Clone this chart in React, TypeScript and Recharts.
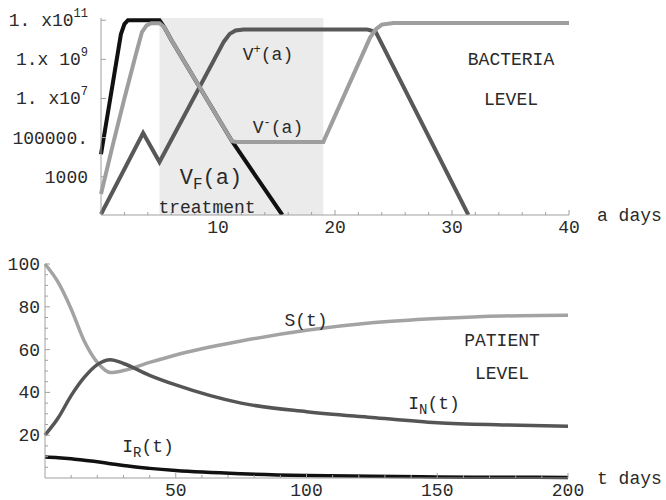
import { LineChart, Line, XAxis, YAxis, ReferenceArea } from 'recharts';

const FONT = '"Liberation Mono", "Courier New", monospace';

// ---- bacteria level, a in days (log scale) ----
const vfDays = [0, 1, 1.7, 2.0, 2.3, 5.0, 5.4, 6, 11.2, 15.5];
const vfLevel = [1.4e4, 5.6e7, 1.9e10, 6.3e10, 1e11, 1e11, 4.5e10, 1e10, 6.5e4, 11];

const vMinusDays = [0, 1, 2, 3, 3.5, 3.9, 4.3, 5.0, 5.4, 6, 11.2, 11.6, 19, 23, 23.5, 24, 25, 40];
const vMinusLevel = [130, 4e4, 1e7, 2e9, 2.5e10, 5.5e10, 7e10, 7e10, 4.5e10, 1e10, 6.5e4, 6e4, 6e4, 1.3e10, 3.5e10, 6e10, 7.2e10, 7.2e10];

const vPlusDays = [0, 3.6, 5.0, 10.5, 11, 11.5, 12.2, 22.7, 23.0, 23.5, 31.4];
const vPlusLevel = [12, 1.7e5, 5.6e3, 8e9, 2e10, 3e10, 3.4e10, 3.4e10, 3.1e10, 2.4e10, 11];

const treatmentStart = 5;
const treatmentEnd = 19;

const aTicks = [2, 4, 6, 8, 10, 12, 14, 16, 18, 20, 22, 24, 26, 28, 30, 32, 34, 36, 38, 40];
const aMajor = [10, 20, 30, 40];
const levelTicks = [1e3, 1e5, 1e7, 1e9, 1e11];
const levelTickText = ['1000', '100000.', '1. x10', '1.x 10', '1. x10'];
const levelTickSup = ['', '', '7', '9', '11'];

// ---- patient level, t in days ----
const tDays = [0, 5, 10, 15, 20, 25, 30, 40, 50, 75, 100, 125, 150, 175, 200];
const sVals = [100, 91.5, 79, 64, 54, 49.3, 50.2, 54, 57.5, 64, 69, 72.5, 74.5, 75.7, 76];
const inVals = [20, 28, 38.5, 47, 53, 55.3, 53.5, 48, 43.5, 35, 31, 28.3, 25.8, 24.8, 24.2];
const irVals = [9.8, 9.5, 9.0, 8.3, 7.6, 6.7, 5.8, 4.5, 3.5, 2.0, 1.2, 0.8, 0.5, 0.35, 0.25];

const tTicks = [10, 20, 30, 40, 50, 60, 70, 80, 90, 100, 110, 120, 130, 140, 150, 160, 170, 180, 190, 200];
const tMajor = [50, 100, 150, 200];
const pTicks = [5, 10, 15, 20, 25, 30, 35, 40, 45, 50, 55, 60, 65, 70, 75, 80, 85, 90, 95, 100];
const pMajor = [20, 40, 60, 80, 100];

const zip = (xs: number[], ys: number[]) => xs.map((x, i) => ({ x, v: ys[i] }));

const vfData = zip(vfDays, vfLevel);
const vMinusData = zip(vMinusDays, vMinusLevel);
const vPlusData = zip(vPlusDays, vPlusLevel);
const sData = zip(tDays, sVals);
const inData = zip(tDays, inVals);
const irData = zip(tDays, irVals);

const AXIS = '#a0a0a0';
const TXT = '#2a2a2a';

const XTick = ({ x, y, payload, majors }: any) => {
  const major = majors.includes(payload.value);
  return (
    <g>
      <line x1={x} x2={x} y1={y} y2={y - (major ? 5 : 3)} stroke={AXIS} />
      {major && (
        <text x={x} y={y + 18} textAnchor="middle" fontFamily={FONT} fontSize={18} fill={TXT}>
          {payload.value}
        </text>
      )}
    </g>
  );
};

const LevelTick = ({ x, y, payload }: any) => {
  const i = levelTicks.indexOf(payload.value);
  return (
    <g>
      <line x1={x} x2={x + 5} y1={y} y2={y} stroke={AXIS} />
      <text x={x - 13} y={y + 6} textAnchor="end" fontFamily={FONT} fontSize={18} fill={TXT}>
        {levelTickText[i]}
        {levelTickSup[i] && (
          <tspan dy={-9} fontSize={12}>
            {levelTickSup[i]}
          </tspan>
        )}
      </text>
    </g>
  );
};

const PTick = ({ x, y, payload }: any) => {
  const major = pMajor.includes(payload.value);
  return (
    <g>
      <line x1={x} x2={x + (major ? 5 : 3)} y1={y} y2={y} stroke={AXIS} />
      {major && (
        <text x={x - 5} y={y + 6} textAnchor="end" fontFamily={FONT} fontSize={18} fill={TXT}>
          {payload.value}
        </text>
      )}
    </g>
  );
};

export default function App() {
  return (
    <div style={{ position: 'absolute', left: 0, top: 0, width: 666, height: 500, background: '#fff' }}>
      <div style={{ position: 'absolute', left: 0, top: 0 }}>
        <LineChart width={666} height={240} margin={{ top: 18, right: 97, bottom: 0, left: 0 }}>
          <ReferenceArea x1={treatmentStart} x2={treatmentEnd} fill="#ebebeb" fillOpacity={1} stroke="none" />
          <XAxis
            type="number"
            dataKey="x"
            domain={[0, 40]}
            ticks={aTicks}
            interval={0}
            height={25}
            tickSize={0}
            tickMargin={0}
            tickLine={false}
            axisLine={{ stroke: AXIS }}
            tick={(p: any) => <XTick {...p} majors={aMajor} />}
          />
          <YAxis
            type="number"
            scale="log"
            domain={[11, 1.3e11]}
            allowDataOverflow
            ticks={levelTicks}
            interval={0}
            width={101}
            tickSize={0}
            tickMargin={0}
            tickLine={false}
            axisLine={{ stroke: AXIS }}
            tick={(p: any) => <LevelTick {...p} />}
          />
          <Line data={vfData} dataKey="v" type="linear" stroke="#111" strokeWidth={4} dot={false} isAnimationActive={false} />
          <Line data={vPlusData} dataKey="v" type="linear" stroke="#585858" strokeWidth={4} dot={false} isAnimationActive={false} />
          <Line data={vMinusData} dataKey="v" type="linear" stroke="#9e9e9e" strokeWidth={4} dot={false} isAnimationActive={false} />
        </LineChart>
      </div>
      <div style={{ position: 'absolute', left: 0, top: 240 }}>
        <LineChart width={666} height={260} margin={{ top: 24, right: 98, bottom: 0, left: 0 }}>
          <XAxis
            type="number"
            dataKey="x"
            domain={[0, 200]}
            ticks={tTicks}
            interval={0}
            height={22}
            tickSize={0}
            tickMargin={0}
            tickLine={false}
            axisLine={{ stroke: AXIS }}
            tick={(p: any) => <XTick {...p} majors={tMajor} />}
          />
          <YAxis
            type="number"
            domain={[0, 100]}
            ticks={pTicks}
            interval={0}
            width={45}
            tickSize={0}
            tickMargin={0}
            tickLine={false}
            axisLine={{ stroke: AXIS }}
            tick={(p: any) => <PTick {...p} />}
          />
          <Line data={irData} dataKey="v" type="monotone" stroke="#111" strokeWidth={3.5} dot={false} isAnimationActive={false} />
          <Line data={sData} dataKey="v" type="monotone" stroke="#a3a3a3" strokeWidth={3.5} dot={false} isAnimationActive={false} />
          <Line data={inData} dataKey="v" type="monotone" stroke="#555" strokeWidth={3.5} dot={false} isAnimationActive={false} />
        </LineChart>
      </div>
      <svg
        width={666}
        height={500}
        style={{ position: 'absolute', left: 0, top: 0, pointerEvents: 'none' }}
        fontFamily={FONT}
        fill={TXT}
      >
        <text x={268} y={60} textAnchor="middle" fontSize={18}>
          V<tspan dy={-7} fontSize={12}>+</tspan>
          <tspan dy={7}>(a)</tspan>
        </text>
        <text x={278} y={133} textAnchor="middle" fontSize={18}>
          V<tspan dy={-7} fontSize={12}>-</tspan>
          <tspan dy={7}>(a)</tspan>
        </text>
        <text x={211} y={184} textAnchor="middle" fontSize={22}>
          V<tspan dy={5} fontSize={16}>F</tspan>
          <tspan dy={-5}>(a)</tspan>
        </text>
        <text x={207} y={213} textAnchor="middle" fontSize={18}>treatment</text>
        <text x={511} y={65} textAnchor="middle" fontSize={18}>BACTERIA</text>
        <text x={511} y={105} textAnchor="middle" fontSize={18}>LEVEL</text>
        <text x={597} y={221} fontSize={18}>a days</text>
        <text x={306} y={326} textAnchor="middle" fontSize={18}>S(t)</text>
        <text x={502} y={346} textAnchor="middle" fontSize={18}>PATIENT</text>
        <text x={502} y={379} textAnchor="middle" fontSize={18}>LEVEL</text>
        <text x={434} y={409} textAnchor="middle" fontSize={18}>
          I<tspan dy={5} fontSize={14}>N</tspan>
          <tspan dy={-5}>(t)</tspan>
        </text>
        <text x={148} y={452} textAnchor="middle" fontSize={18}>
          I<tspan dy={5} fontSize={14}>R</tspan>
          <tspan dy={-5}>(t)</tspan>
        </text>
        <text x={597} y={484} fontSize={18}>t days</text>
      </svg>
    </div>
  );
}
